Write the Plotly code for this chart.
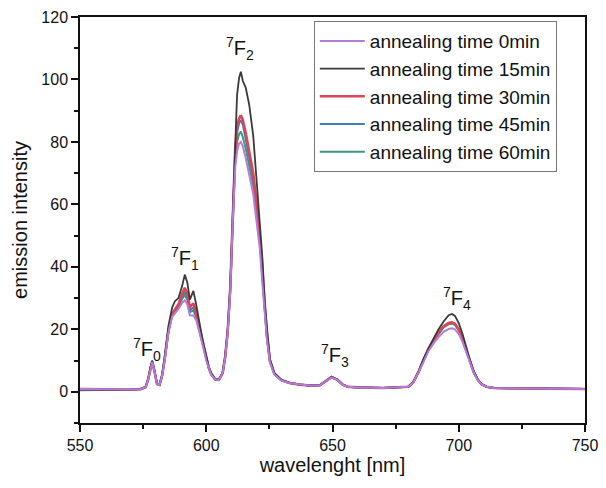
import plotly.graph_objects as go

wavelength = [550, 555, 560, 565, 570, 574, 576, 577, 578, 578.6, 579.5, 580.5, 581.5, 582.5, 583.5,
              585, 586.5, 587.6, 589, 590.5, 591.5, 592.5, 593.5, 594.9, 596, 597, 598, 599, 600, 601,
              602, 603.5, 605, 606.5, 607.5, 608.5, 609.5, 610.5, 611.5, 612.2, 613, 613.7, 614.5, 615.6,
              617, 618.6, 620, 621.2, 622.3, 623.2, 624, 625.2, 627, 629.8, 633, 637, 641, 645, 647,
              649.6, 652, 654, 656, 660, 670, 680, 682, 684, 686, 688, 690, 692, 694, 696, 697.3, 698.5,
              700, 701.5, 703, 704.5, 706, 707.5, 709, 711, 714, 720, 730, 740, 750]

int_0min = [0.9, 0.8, 0.7, 0.6, 0.7, 0.9, 1.5, 4.0, 8.0, 9.5, 6.5, 2.5, 2.2, 5.0, 10,
            19, 24, 25, 26.5, 28.5, 29.3, 28, 24.5, 24.4, 23, 20, 17, 13.5, 10, 7.5,
            5.5, 4.0, 3.8, 6, 11, 19, 32, 55, 72, 77, 79.5, 80, 78.5, 75,
            69.5, 63.4, 54, 46, 34, 24, 17, 9.5, 5.5, 3.6, 2.8, 2.3, 2.0, 2.1, 3.2,
            4.6, 3.8, 2.3, 1.6, 1.4, 1.2, 1.6, 3.0, 6, 9.5, 13, 15.5, 17.5, 19.2, 20.1, 20.3, 20,
            18.5, 16, 12.5, 9, 6, 3.8, 2.4, 1.6, 1.2, 1.1, 1.0, 1.0, 0.9]

int_15min = [0.8, 0.7, 0.6, 0.6, 0.7, 0.9, 1.6, 4.2, 8.3, 10.0, 6.8, 2.6, 2.3, 5.3, 11,
             21, 27, 29, 30, 34, 37.5, 35, 29.5, 32.3, 28, 23, 19, 15, 11, 8,
             6, 4.2, 3.9, 6.2, 11.5, 20, 34, 58, 82, 95, 100.5, 102.5, 99.5, 97.5,
             92, 82, 67, 54, 42, 28, 20, 10.5, 6, 3.8, 2.9, 2.3, 2.0, 2.1, 3.3,
             4.8, 3.9, 2.4, 1.6, 1.4, 1.2, 1.6, 3.2, 6.5, 10.5, 14, 17, 20, 22.5, 24.5, 24.9, 24.3,
             22, 18.5, 14, 10, 6.5, 4, 2.5, 1.6, 1.2, 1.1, 1.0, 1.0, 0.9]

int_30min = [0.9, 0.8, 0.7, 0.6, 0.7, 0.9, 1.5, 4.0, 8.1, 9.6, 6.6, 2.5, 2.2, 5.1, 10.3,
             19.5, 25, 26.5, 28, 31.5, 33.3, 31.5, 27, 28.3, 25.5, 21.5, 18, 14, 10.5, 7.7,
             5.6, 4.0, 3.8, 6, 11.2, 19.5, 33, 57, 78, 85, 87.5, 88.5, 87, 83,
             77, 70, 60, 50, 38, 26, 18.5, 10, 5.8, 3.7, 2.8, 2.3, 2.0, 2.1, 3.2,
             4.7, 3.8, 2.3, 1.6, 1.4, 1.2, 1.6, 3.1, 6.2, 10, 13.8, 16.5, 19, 21, 22, 22.2, 21.8,
             20, 17, 13.2, 9.5, 6.2, 3.9, 2.4, 1.6, 1.2, 1.1, 1.0, 1.0, 0.9]

int_45min = [0.5, 0.5, 0.5, 0.5, 0.5, 0.7, 1.4, 3.9, 8.0, 9.5, 6.5, 2.5, 2.2, 5.1, 10.2,
             19.3, 24.7, 26, 27.5, 30.5, 32, 30.5, 26, 27, 24.5, 21, 17.5, 13.8, 10.3, 7.6,
             5.5, 4.0, 3.8, 6, 11.1, 19.3, 32.7, 56.5, 77, 83, 86, 87, 85.5, 81,
             75.5, 68.5, 59, 49, 37, 25.5, 18, 9.8, 5.7, 3.7, 2.8, 2.3, 2.0, 2.1, 3.2,
             4.7, 3.8, 2.3, 1.6, 1.4, 1.2, 1.6, 3.1, 6.2, 10, 13.8, 16.5, 19, 21, 22, 22.2, 21.8,
             20, 17, 13.2, 9.5, 6.2, 3.9, 2.4, 1.6, 1.2, 1.1, 1.0, 1.0, 0.9]

int_60min = [0.8, 0.7, 0.7, 0.6, 0.7, 0.9, 1.5, 4.0, 8.0, 9.5, 6.5, 2.5, 2.2, 5.0, 10.1,
             19.2, 24.5, 25.5, 27, 29.8, 31, 29.5, 25.5, 26, 24, 20.5, 17.3, 13.7, 10.2, 7.5,
             5.5, 4.0, 3.8, 6, 11, 19.2, 32.4, 56, 75, 80, 82.5, 83.3, 81.5, 78,
             72.5, 66, 57, 48, 36, 25, 17.5, 9.7, 5.6, 3.6, 2.8, 2.3, 2.0, 2.1, 3.2,
             4.6, 3.8, 2.3, 1.6, 1.4, 1.2, 1.6, 3.0, 6.1, 9.8, 13.5, 16.2, 18.5, 20.6, 21.6, 21.8, 21.4,
             19.6, 16.7, 13, 9.3, 6.1, 3.9, 2.4, 1.6, 1.2, 1.1, 1.0, 1.0, 0.9]

series_names = ["annealing time 0min", "annealing time 15min", "annealing time 30min",
                "annealing time 45min", "annealing time 60min"]
series_values = [int_0min, int_15min, int_30min, int_45min, int_60min]
series_colors = ["#B47CDA", "#3A3A3A", "#DD4455", "#3D7FB8", "#3A9A78"]
series_widths = [2.0, 1.8, 2.6, 2.0, 2.0]

peak_labels = ["7F0", "7F1", "7F2", "7F3", "7F4"]
peak_x = [576.5, 591.5, 613.3, 651, 699.2]
peak_y = [13.5, 42.6, 110, 11.5, 30]

fig = go.Figure()
# draw last series first so that 0min appears on top
for i in reversed(range(len(series_names))):
    fig.add_trace(go.Scatter(
        x=wavelength, y=series_values[i], mode="lines", name=series_names[i],
        line=dict(color=series_colors[i], width=series_widths[i]),
        legendrank=i + 1,
    ))

for lab, px, py in zip(peak_labels, peak_x, peak_y):
    txt = "<sup>" + lab[0] + "</sup>F<sub>" + lab[2] + "</sub>"
    fig.add_annotation(x=px, y=py, text=txt, showarrow=False,
                       font=dict(size=20, color="#111"), xanchor="center", yanchor="middle")

fig.update_layout(
    width=606, height=488,
    margin=dict(l=80, r=21, t=17, b=65),
    paper_bgcolor="white", plot_bgcolor="white",
    font=dict(family="Arial, Liberation Sans, sans-serif", color="#111"),
    showlegend=True,
    legend=dict(x=0.463, y=0.99, xanchor="left", yanchor="top",
                bordercolor="#777", borderwidth=1, bgcolor="rgba(255,255,255,0)",
                font=dict(size=19, color="#111"), tracegroupgap=0,
                itemwidth=45),
)
fig.update_xaxes(
    range=[550, 750], tickvals=[550, 600, 650, 700, 750],
    ticks="outside", ticklen=7, tickwidth=1.5, tickcolor="#111",
    minor=dict(tickvals=[575, 625, 675, 725], ticks="outside", ticklen=4, tickwidth=1.5, tickcolor="#111"),
    showline=True, linecolor="#111", linewidth=1.5, mirror=True,
    showgrid=False, zeroline=False, automargin=False,
    tickfont=dict(size=16), title=dict(text="wavelenght [nm]", font=dict(size=20), standoff=5),
)
fig.update_yaxes(
    range=[-10, 120], tickvals=[0, 20, 40, 60, 80, 100, 120],
    ticks="outside", ticklen=7, tickwidth=1.5, tickcolor="#111",
    minor=dict(tickvals=[-10, 10, 30, 50, 70, 90, 110], ticks="outside", ticklen=4, tickwidth=1.5, tickcolor="#111"),
    showline=True, linecolor="#111", linewidth=1.5, mirror=True,
    showgrid=False, zeroline=False, automargin=False,
    tickfont=dict(size=16), title=dict(text="emission intensity", font=dict(size=20), standoff=8),
)

fig.write_html("out.html", config={"displayModeBar": False},
               post_script="document.body.style.margin='0';")
